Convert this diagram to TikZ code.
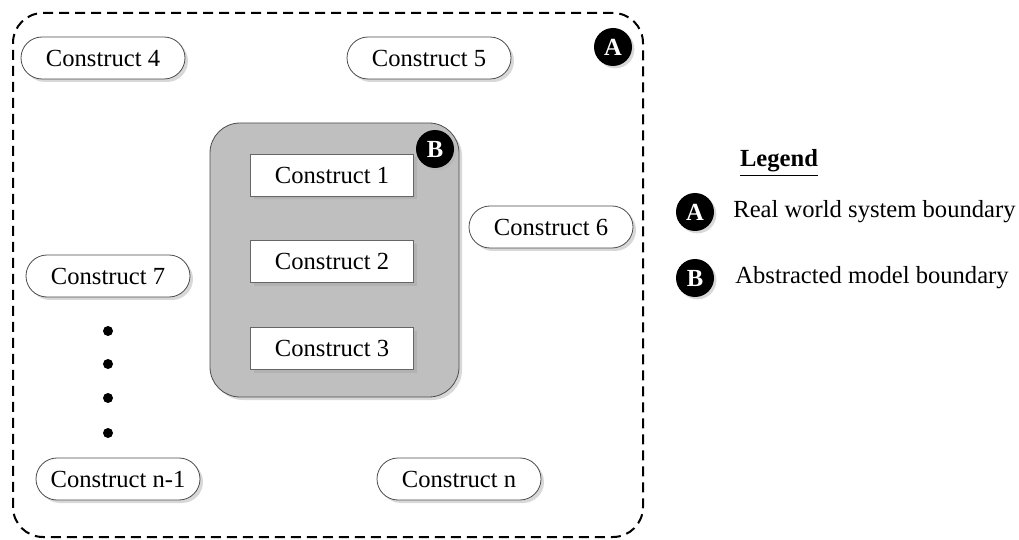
\documentclass[tikz,border=0pt]{standalone}
\usepackage{fontspec}
\setmainfont{Liberation Serif}
\usetikzlibrary{shapes.misc, shadows, positioning}
\tikzset{
	pill/.style={rounded rectangle, draw=black!70, fill=white, minimum width=82pt,
		minimum height=21pt, inner sep=0pt, font=\fontsize{12.3}{14}\selectfont,
		drop shadow={shadow xshift=1.5pt, shadow yshift=-1.5pt, fill=black!30}},
	construct/.style={rectangle, draw=black!60, fill=white, minimum width=81.5pt,
		minimum height=21pt, inner sep=0pt, font=\fontsize{12.3}{14}\selectfont,
		drop shadow={shadow xshift=1.5pt, shadow yshift=-1.5pt, fill=black!35}},
	badge/.style={circle, fill=black, text=white, minimum size=19pt, inner sep=0pt,
		font=\bfseries\fontsize{12.3}{14}\selectfont,
		drop shadow={shadow xshift=1.2pt, shadow yshift=-1.2pt, fill=black!30}},
	legtext/.style={font=\fontsize{12.3}{14}\selectfont, inner sep=0pt},
	dotmark/.style={circle, fill=black, minimum size=5pt, inner sep=0pt},
}
\begin{document}
\begin{tikzpicture}[x=0.5pt, y=-0.5pt]
	\useasboundingbox (0,0) rectangle (1019,540);
	% real world boundary
	\node[draw=black, line width=1pt, dash pattern=on 5pt off 3pt, rounded corners=15pt,
		minimum width=315pt, minimum height=262pt, inner sep=0pt](world) at (328,275){};
	\node[badge](badgeA) at (613,47){A};
	% abstracted model
	\node[draw=black!70, fill=black!25, rounded corners=15pt, minimum width=124.5pt,
		minimum height=137pt, inner sep=0pt,
		drop shadow={shadow xshift=1.5pt, shadow yshift=-1.5pt, fill=black!30}](model) at (334.5,260){};
	\node[badge](badgeB) at (435,149){B};
	\node[construct](c1) at (332,175){Construct 1};
	\node[construct, below=22pt of c1](c2){Construct 2};
	\node[construct, below=22pt of c2](c3){Construct 3};
	% outer constructs
	\node[pill](c4) at (103,58){Construct 4};
	\node[pill](c5) at (429,58){Construct 5};
	\node[pill](c6) at (551,227){Construct 6};
	\node[pill](c7) at (108,276){Construct 7};
	\node[pill](cn1) at (118,479){Construct n-1};
	\node[pill](cn) at (459,479){Construct n};
	\foreach \y [count=\i] in {331,364,398,433}
		\node[dotmark](dot\i) at (108,\y){};
	% legend
	\node[legtext](legend) at (779,163){\underline{\textbf{Legend}}};
	\node[badge](legA) at (695,212){A};
	\node[legtext, right=19pt of legA.center, anchor=west](legAtext){Real world system boundary};
	\node[badge](legB) at (695,278){B};
	\node[legtext, right=20pt of legB.center, anchor=west](legBtext){Abstracted model boundary};
\end{tikzpicture}
\end{document}
